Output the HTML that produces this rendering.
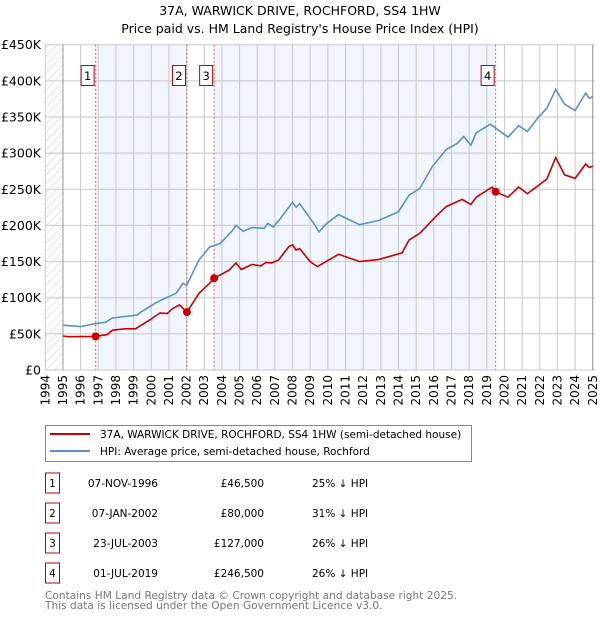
<!DOCTYPE html>
<html><head><meta charset="utf-8"><style>
body{margin:0;background:#fff;font-family:"Liberation Sans","DejaVu Sans",sans-serif}
svg text{font-family:"DejaVu Sans","Liberation Sans",sans-serif}
</style></head><body>
<svg id="c" width="600" height="620" viewBox="0 0 600 620" xmlns="http://www.w3.org/2000/svg">
<defs><pattern id="hatch" width="6" height="6" patternUnits="userSpaceOnUse" patternTransform="rotate(45)"><line x1="0" y1="0" x2="0" y2="6" stroke="#ccc" stroke-width="1"/></pattern></defs>
<text x="300" y="15" text-anchor="middle" font-size="12.5">37A, WARWICK DRIVE, ROCHFORD, SS4 1HW</text>
<text x="300" y="33" text-anchor="middle" font-size="12.5">Price paid vs. HM Land Registry's House Price Index (HPI)</text>
<g id="plot"></g>
<g>
<rect x="45.5" y="425.5" width="426" height="36" fill="#fff" stroke="#888"/>
<line x1="50" y1="434" x2="90" y2="434" stroke="#cc0000" stroke-width="2"/>
<text x="100" y="438" font-size="10.5">37A, WARWICK DRIVE, ROCHFORD, SS4 1HW (semi-detached house)</text>
<line x1="50" y1="451" x2="90" y2="451" stroke="#5b8fd0" stroke-width="2"/>
<text x="100" y="455" font-size="10.5">HPI: Average price, semi-detached house, Rochford</text>
</g>
<g id="table"></g>
<text x="45" y="599" font-size="10.6" fill="#777">Contains HM Land Registry data © Crown copyright and database right 2025.</text>
<text x="45" y="609" font-size="10.6" fill="#777">This data is licensed under the Open Government Licence v3.0.</text>
</svg>
<script>
const hpiYears=[1995.0,1996.0,1996.8,1997.4,1997.8,1998.5,1999.2,1999.4,2000.2,2000.5,2001.4,2001.8,2002.0,2002.7,2003.3,2003.9,2004.6,2004.8,2005.2,2005.7,2006.4,2006.6,2006.9,2007.2,2007.6,2008.0,2008.2,2008.4,2009.2,2009.5,2009.9,2010.6,2011.8,2012.9,2014.0,2014.6,2015.2,2015.9,2016.7,2017.3,2017.7,2018.1,2018.4,2019.2,2020.2,2020.8,2021.3,2021.9,2022.4,2022.9,2023.4,2024.0,2024.6,2024.8,2025.0];
const hpiValues=[62,60,64,66,72,74,76,80,92,96,106,120,117,152,170,175,193,200,192,197,196,203,198,206,219,232,225,230,203,191,202,215,201,207,219,242,251,281,305,313,323,311,328,340,322,338,330,349,362,388,368,359,383,376,378];
const ppYears=[1995.0,1995.3,1996.85,1997.5,1997.8,1998.5,1999.1,1999.9,2000.5,2000.9,2001.2,2001.6,2002.02,2002.7,2003.3,2003.56,2004.4,2004.8,2005.1,2005.7,2006.2,2006.5,2006.8,2007.2,2007.8,2008.0,2008.2,2008.4,2009.0,2009.4,2009.9,2010.6,2011.8,2012.9,2014.2,2014.6,2015.2,2016.1,2016.7,2017.6,2018.1,2018.4,2019.3,2019.5,2020.2,2020.8,2021.3,2022.4,2022.9,2023.4,2024.0,2024.6,2024.8,2025.0];
const ppValues=[47,46,46.5,49,55,57,57,69,79,78,85,90,80,106,120,127,138,148,139,146,144,149,148,152,171,173,166,168,150,143,150,160,150,153,162,180,189,212,226,236,229,239,253,246.5,239,253,244,264,294,270,265,285,280,282];
const saleLabels=["1","2","3","4"];
const saleYears=[1996.85,2002.02,2003.56,2019.5];
const saleValues=[46.5,80,127,246.5];
const saleDates=["07-NOV-1996","07-JAN-2002","23-JUL-2003","01-JUL-2019"];
const salePrices=["£46,500","£80,000","£127,000","£246,500"];
const saleDiffs=["25% ↓ HPI","31% ↓ HPI","26% ↓ HPI","26% ↓ HPI"];
const yTicks=[0,50,100,150,200,250,300,350,400,450];
const yTickLabels=["£0","£50K","£100K","£150K","£200K","£250K","£300K","£350K","£400K","£450K"];
const xTicks=[1994,1995,1996,1997,1998,1999,2000,2001,2002,2003,2004,2005,2006,2007,2008,2009,2010,2011,2012,2013,2014,2015,2016,2017,2018,2019,2020,2021,2022,2023,2024,2025];

const X0=45.3,X1=595,Y0=370,Y1=44.7;
const xs=y=>X0+(y-1994)*17.66;
const ys=v=>Y0-(v/450)*(Y0-Y1);
const NS="http://www.w3.org/2000/svg";
function mk(tag,attrs,parent){const e=document.createElementNS(NS,tag);for(const k in attrs)e.setAttribute(k,attrs[k]);parent.appendChild(e);return e;}
const plot=document.getElementById('plot');
let h=mk('rect',{x:X0,y:Y1,width:xs(1995)-X0,height:Y0-Y1,fill:'url(#hatch)'},plot);


for(let i=0;i<saleYears.length;i+=2){
 const x2=i+1<saleYears.length?xs(saleYears[i+1]):X1;
 const r=mk('rect',{x:xs(saleYears[i]),y:Y1,width:x2-xs(saleYears[i]),height:Y0-Y1,fill:'#eef3fc',opacity:0.8},plot);
 
 
}
xTicks.forEach((t,i)=>{
 const l=mk('line',{x1:xs(t),x2:xs(t),y1:Y1,y2:Y0,stroke:'#c8c8c8','stroke-width':1},plot);
 
 
 const x=xs(t)+4,y=Y0+5;
 const tx=mk('text',{x:x,y:y,'font-size':12,'text-anchor':'end',transform:`rotate(-90 ${x} ${y})`},plot);
 tx.textContent=t;
 
 
});
yTicks.forEach((t,i)=>{
 const l=mk('line',{x1:X0,x2:X1,y1:ys(t),y2:ys(t),stroke:'#c8c8c8','stroke-width':1},plot);
 
 
 const tx=mk('text',{x:41,y:ys(t)+4.5,'font-size':12.5,'text-anchor':'end'},plot);
 tx.textContent=yTickLabels[i];
 
 
});
let ax=mk('line',{x1:xs(1995),x2:xs(1995),y1:Y1,y2:Y0,stroke:'#999'},plot);


let ax2=mk('line',{x1:xs(2025),x2:xs(2025),y1:Y1,y2:Y0,stroke:'#999'},plot);


saleYears.forEach((y,i)=>{
 const l=mk('line',{x1:xs(y),x2:xs(y),y1:Y1,y2:Y0,stroke:'#e06060','stroke-dasharray':'2,2'},plot);
 
 
 const b=mk('rect',{x:xs(y)-14.5,y:65.5,width:13,height:20,fill:'#fff',stroke:'#b00'},plot);
 
 
 const t=mk('text',{x:xs(y)-8,y:80,'font-size':11.5,'text-anchor':'middle'},plot);
 t.textContent=saleLabels[i];
 
 
});
const pts=(xa,va)=>xa.map((x,i)=>xs(x).toFixed(1)+','+ys(va[i]).toFixed(1)).join(' ');
let hp=mk('polyline',{points:pts(hpiYears,hpiValues),fill:'none',stroke:'#5b8fd0','stroke-width':1.6},plot);


let pp=mk('polyline',{points:pts(ppYears,ppValues),fill:'none',stroke:'#cc0000','stroke-width':1.6},plot);


saleYears.forEach((y,i)=>{
 const c=mk('circle',{cx:xs(y),cy:ys(saleValues[i]),r:4,fill:'#cc0000'},plot);
 
 
});
const tb=document.getElementById('table');
saleDates.forEach((d,i)=>{
 const cy=483+i*30;
 const b=mk('rect',{x:45.5,y:cy-10,width:14,height:20,fill:'#fff',stroke:'#b00'},tb);
 
 
 const t0=mk('text',{x:52.5,y:cy+4,'font-size':10.5,'text-anchor':'middle'},tb);t0.textContent=saleLabels[i];
 
 
 const t1=mk('text',{x:158,y:cy+4,'font-size':10.5,'text-anchor':'end'},tb);t1.textContent=d;
 
 
 const t2=mk('text',{x:264,y:cy+4,'font-size':10.5,'text-anchor':'end'},tb);t2.textContent=salePrices[i];
 
 
 const t3=mk('text',{x:312,y:cy+4,'font-size':10.5},tb);t3.textContent=saleDiffs[i];
 
 
});
</script>
</body></html>
